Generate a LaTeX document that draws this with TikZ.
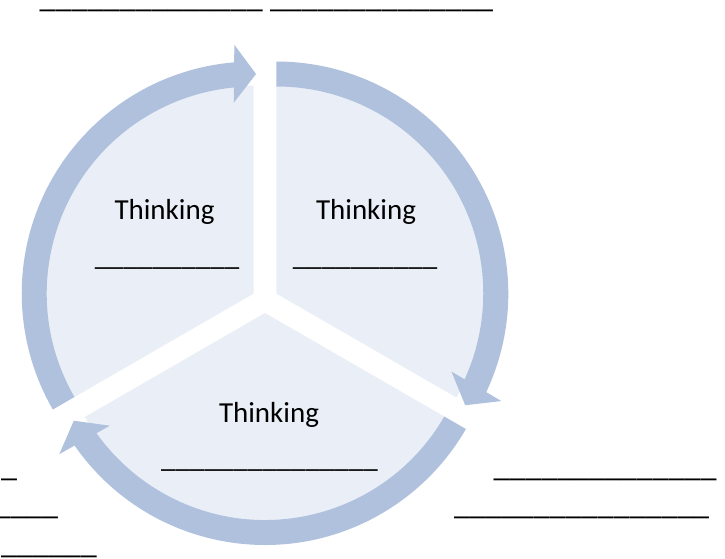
\documentclass[tikz,border=0pt]{standalone}
\usepackage{fontspec}
\setmainfont{Carlito}
\usetikzlibrary{calc}
\definecolor{segfill}{RGB}{234,239,247}
\definecolor{arrowcol}{RGB}{176,193,222}
\begin{document}
\begin{tikzpicture}[x=1pt,y=1pt,
  seg/.style={fill=segfill},
  arr/.style={fill=arrowcol},
  lbl/.style={inner sep=0pt, anchor=base, font=\fontsize{29}{35}\selectfont},
  body/.style={inner sep=0pt, font=\fontsize{32}{39}\selectfont}]
\useasboundingbox (0,0) rectangle (725,558);
\fill[white] (0,0) rectangle (725,558);
\coordinate (C) at (265,258);
% segments (exploded pie wedges)
\foreach \b in {150,30,270}{
  \coordinate (A) at ($(C)+(\b:13)$);
  \fill[seg] (A) -- ($(A)+({\b-60}:208)$) arc[start angle={\b-60}, end angle={\b+60}, radius=208] -- cycle;
}
% circular arrows
\foreach \b in {150,30,270}{
  \coordinate (A) at ($(C)+(\b:13)$);
  \pgfmathsetmacro\angS{\b+60}
  \pgfmathsetmacro\angT{\b-60-0.6}
  \pgfmathsetmacro\angE{\angT+5}
  \fill[arr] ($(A)+(\angS:207)$) arc[start angle=\angS, end angle=\angE, radius=207]
     -- ($(A)+(\angE:232)$) arc[start angle=\angE, end angle=\angS, radius=232] -- cycle;
  \coordinate (T) at ($(A)+(\angT:219.5)$);
  \coordinate (Bc) at ($(T)+({\angT+90}:22)$);
  \fill[arr] (T) -- ($(Bc)+(\angT:29)$) -- ($(Bc)+({\angT+180}:29)$) -- cycle;
}
% segment texts
\node[lbl] (t1) at (164.5,339) {Thinking};
\node[lbl] (u1) at (167,293) {\_\_\_\_\_\_\_\_\_\_};
\node[lbl] (t2) at (366,339) {Thinking};
\node[lbl] (u2) at (365,293) {\_\_\_\_\_\_\_\_\_\_};
\node[lbl] (t3) at (269,136) {Thinking};
\node[lbl] (u3) at (269.5,90.7) {\_\_\_\_\_\_\_\_\_\_\_\_\_\_\_};
% body text lines
\node[body, anchor=base west] (top) at (39.5,550.3) {\_\_\_\_\_\_\_\_\_\_\_\_\_\_ \_\_\_\_\_\_\_\_\_\_\_\_\_\_};
\node[body, anchor=base west] (l1) at (1,81.5) {\_};
\node[body, anchor=base east] (l2) at (58.3,43.3) {\_\_\_\_};
\node[body, anchor=base west] (l3) at (1,4.3) {\_\_\_\_\_\_};
\node[body, anchor=base west] (r1) at (493.3,81.5) {\_\_\_\_\_\_\_\_\_\_\_\_\_\_};
\node[body, anchor=base west] (r2) at (454,43.3) {\_\_\_\_\_\_\_\_\_\_\_\_\_\_\_\_};
\end{tikzpicture}
\end{document}
